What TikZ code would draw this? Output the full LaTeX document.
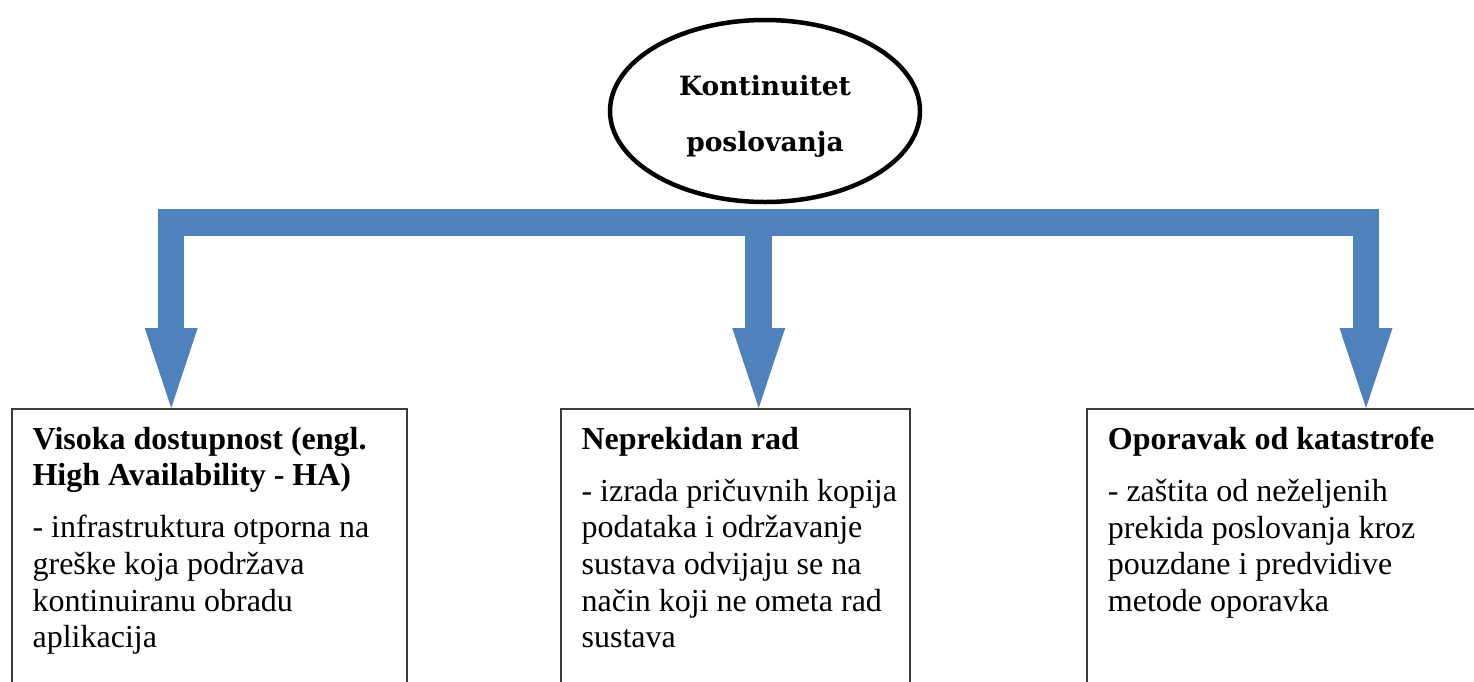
\documentclass[tikz,border=0pt]{standalone}
\usepackage{fontspec}
\setmainfont{Liberation Serif}
\newfontfamily\hubfont{DejaVu Serif}
\usepackage{xcolor}
\definecolor{bcblue}{RGB}{79,129,189}
\definecolor{bcframe}{RGB}{60,60,60}
\usepackage{tikz}
\usetikzlibrary{shapes.geometric, arrows.meta, positioning, calc}

\begin{document}
\begin{tikzpicture}[
    x=1pt, y=-1pt,
    hubnode/.style={ellipse, draw=black, line width=4.5pt, minimum width=310pt,
                    minimum height=182pt, inner sep=0pt, align=center,
                    font=\hubfont\bfseries\fontsize{26.5}{56}\selectfont},
    panel/.style={rectangle, draw=bcframe, line width=1.8pt, anchor=north west,
                  inner xsep=0pt, inner ysep=18pt, font=\fontsize{32}{36.7}\selectfont},
    flow/.style={draw=bcblue, line width=26.5pt, line join=miter},
]
\useasboundingbox (0,0) rectangle (1474,681);
\clip (0,0) rectangle (1474,681);

\node[hubnode] (kp) at (765,111) {\rule{0pt}{31.4pt}Kontinuitet\\poslovanja};

\node[panel] (ha) at (10.7,408) {\hspace*{21pt}\parbox[t][290pt][t]{374pt}{\raggedright
  {\bfseries Visoka dostupnost (engl.\\High Availability - HA)\par}\vspace{15.3pt}
  - infrastruktura otporna na\\greške koja podržava\\kontinuiranu obradu\\aplikacija}};

\node[panel] (nr) at (560,408) {\hspace*{20.7pt}\parbox[t][290pt][t]{328.3pt}{\raggedright
  {\bfseries Neprekidan rad\par}\vspace{15.3pt}
  - izrada pričuvnih kopija\\podataka i održavanje\\sustava odvijaju se na\\način koji ne ometa rad\\sustava}};

\node[panel] (ok) at (1086,408) {\hspace*{21pt}\parbox[t][290pt][t]{400pt}{\raggedright
  {\bfseries Oporavak od katastrofe\par}\vspace{15.3pt}
  - zaštita od neželjenih\\prekida poslovanja kroz\\pouzdane i predvidive\\metode oporavka}};

\coordinate (bus) at (758.7,222.4);
\coordinate (tipha) at ([xshift=160.5pt]ha.north west);
\coordinate (tipnr) at ([xshift=198.7pt]nr.north west);
\coordinate (tipok) at ([xshift=280pt]ok.north west);

\draw[flow, {Triangle[length=80pt, width=53pt, line width=0pt]}-{Triangle[length=80pt, width=53pt, line width=0pt]}]
    (tipha) |- (bus) -| (tipok);
\draw[flow, -{Triangle[length=80pt, width=53pt, line width=0pt]}] (bus) -- (tipnr);

\end{tikzpicture}
\end{document}
